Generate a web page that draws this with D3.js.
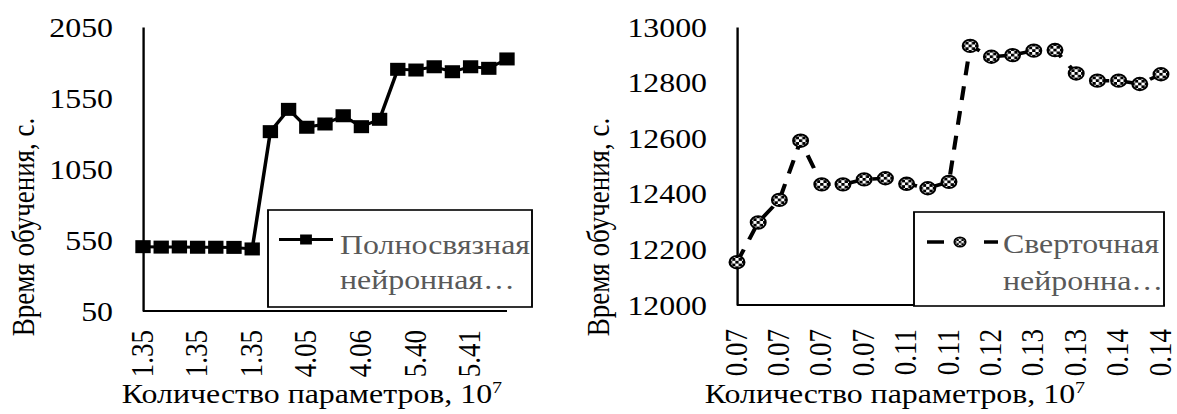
<!DOCTYPE html>
<html><head><meta charset="utf-8">
<script src="https://cdn.jsdelivr.net/npm/d3@7"></script>
<style>html,body{margin:0;padding:0;background:#fff;overflow:hidden}
svg text{font-family:"Liberation Serif","Tinos","Times New Roman",serif;}</style>
</head><body>
<svg id="chart" width="1177" height="414"></svg>
<script>
// ---- data ----
const leftCategories = ["1.35","1.35","1.35","1.35","1.35","1.35","1.35","4.05","4.05","4.05","4.05","4.06","4.06","4.06","5.40","5.40","5.40","5.41","5.41","5.41","5.41"];
const leftValues = [503,500,501,499,499,498,487,1313,1470,1344,1367,1425,1348,1400,1752,1747,1770,1735,1770,1759,1825];
const leftYTicks = [50,550,1050,1550,2050];
const leftSeriesName = ["Полносвязная","нейронная…"];

const rightCategories = ["0.07","0.07","0.07","0.07","0.07","0.07","0.07","0.07","0.11","0.11","0.11","0.11","0.12","0.12","0.13","0.13","0.13","0.13","0.14","0.14","0.14"];
const rightValues = [12154,12297,12378,12591,12434,12434,12452,12456,12436,12420,12443,12932,12893,12899,12915,12917,12833,12807,12807,12795,12830];
const rightYTicks = [12000,12200,12400,12600,12800,13000];
const rightSeriesName = ["Сверточная","нейронна…"];

const xTitle = "Количество параметров, 10";
const xTitleSup = "7";
const yTitle = "Время обучения, с.";

// ---- layout ----
const S = 1.18;             // horizontal stretch of the original picture
const W = 1177 / S, H = 414;
const FONT = '"Liberation Serif","Tinos","Times New Roman",serif';
const FS = 27;

const svg = d3.select("#chart").attr("viewBox", `0 0 ${W} ${H}`).attr("preserveAspectRatio", "none");
const defs = svg.append("defs");
const C = 0.22;
const pat = defs.append("pattern").attr("id", "chk")
  .attr("patternUnits", "objectBoundingBox").attr("patternContentUnits", "objectBoundingBox")
  .attr("x", 0.5 - C / 2).attr("y", 0.5 - C / 2)
  .attr("width", 2 * C).attr("height", 2 * C);
pat.append("rect").attr("width", 2 * C).attr("height", 2 * C).attr("fill", "#fff");
pat.append("rect").attr("width", C).attr("height", C).attr("fill", "#000");
pat.append("rect").attr("x", C).attr("y", C).attr("width", C).attr("height", C).attr("fill", "#000");

function txt(sel) {
  return sel.style("font-family", FONT).style("font-size", FS + "px");
}

function panel(o) {
  const g = svg.append("g");
  const x = d3.scalePoint().domain(d3.range(o.values.length)).range([o.x0 / S, o.x1 / S]);
  const y = d3.scaleLinear().domain([o.yTicks[0], o.yTicks[o.yTicks.length - 1]]).range([o.yBottom, o.yTop]);

  // y axis
  const ya = g.append("g").attr("transform", `translate(${o.x0 / S},0)`)
    .call(d3.axisLeft(y).tickValues(o.yTicks).tickFormat(d3.format("d")).tickSize(0).tickSizeOuter(0).tickPadding(30 / S));
  ya.select(".domain").attr("stroke", "#000").attr("stroke-width", 2);
  txt(ya.selectAll("text")).attr("fill", "#000").attr("dy", "0.34em");

  // x axis
  const xa = g.append("g").attr("transform", `translate(0,${o.yBottom})`)
    .call(d3.axisBottom(x).tickValues(x.domain().filter(i => i % o.every === 0))
      .tickFormat(i => o.categories[i]).tickSize(0).tickSizeOuter(0));
  xa.select(".domain").attr("d", `M${o.x0 / S},0H${o.axisEnd / S}`).attr("stroke", "#000").attr("stroke-width", 2);
  txt(xa.selectAll("text")).attr("fill", "#000")
    .attr("transform", "rotate(-90)").attr("text-anchor", "end")
    .attr("x", -(o.labelTop - o.yBottom)).attr("y", 0).attr("dy", "0.28em");

  // series line
  const line = d3.line().x((d, i) => x(i)).y(d => y(d));
  const path = g.append("path").datum(o.values).attr("d", line).attr("fill", "none")
    .attr("stroke", "#000").attr("stroke-width", o.lineWidth);
  if (o.dash) path.attr("stroke-dasharray", o.dash);

  // markers
  const mk = g.append("g");
  if (o.marker === "square") {
    mk.selectAll("rect").data(o.values).join("rect")
      .attr("x", (d, i) => x(i) - 6.5).attr("y", d => y(d) - 6.5)
      .attr("width", 13).attr("height", 13).attr("fill", "#000");
  } else {
    mk.selectAll("circle").data(o.values).join("circle")
      .attr("cx", (d, i) => x(i)).attr("cy", d => y(d)).attr("r", 6.3)
      .attr("fill", "url(#chk)").attr("stroke", "#000").attr("stroke-width", 1.8);
  }

  // legend
  const L = o.legend;
  const lg = g.append("g");
  lg.append("rect").attr("x", L.x0 / S).attr("y", L.y0).attr("width", (L.x1 - L.x0) / S).attr("height", L.y1 - L.y0)
    .attr("fill", "#fff").attr("stroke", "#000").attr("stroke-width", 1.6);
  L.segs.forEach(sg => lg.append("line").attr("x1", sg[0] / S).attr("x2", sg[1] / S)
    .attr("y1", L.ly).attr("y2", L.ly).attr("stroke", "#000").attr("stroke-width", o.lineWidth));
  if (o.marker === "square") {
    lg.append("rect").attr("x", L.mx / S - 5).attr("y", L.ly - 5).attr("width", 10).attr("height", 10).attr("fill", "#000");
  } else {
    lg.append("circle").attr("cx", L.mx / S).attr("cy", L.ly).attr("r", 4.8)
      .attr("fill", "url(#chk)").attr("stroke", "#000").attr("stroke-width", 1.5);
  }
  o.name.forEach((t, k) => txt(lg.append("text")).attr("x", L.tx / S).attr("y", L.tb[k])
    .attr("fill", "#595959").text(t));

  // axis titles
  const xt = txt(g.append("text")).attr("x", o.xTitleX / S).attr("y", 403).attr("text-anchor", "middle").attr("fill", "#000");
  xt.append("tspan").text(xTitle);
  xt.append("tspan").style("font-size", "17px").attr("dy", -10).text(xTitleSup);
  txt(g.append("text")).attr("transform", `translate(${o.yTitleX / S},227) rotate(-90)`).attr("text-anchor", "middle")
    .attr("fill", "#000").text(yTitle);
}

panel({
  values: leftValues, categories: leftCategories, yTicks: leftYTicks, name: leftSeriesName,
  x0: 143, x1: 507, axisEnd: 507, yTop: 27, yBottom: 311, labelTop: 330, every: 3,
  marker: "square", lineWidth: 3,
  legend: { x0: 268, x1: 532, y0: 210, y1: 307, ly: 239.5, segs: [[279, 333]], mx: 306, tx: 340, tb: [254, 289] },
  xTitleX: 312, yTitleX: 33.5
});
panel({
  values: rightValues, categories: rightCategories, yTicks: rightYTicks, name: rightSeriesName,
  x0: 737, x1: 1161, axisEnd: 1165, yTop: 27, yBottom: 305, labelTop: 329, every: 2,
  marker: "circle", lineWidth: 3.5, dash: "14,11",
  legend: { x0: 914, x1: 1164, y0: 212, y1: 306, ly: 242, segs: [[927, 944], [984, 998]], mx: 960, tx: 1003, tb: [253, 290] },
  xTitleX: 895, yTitleX: 609
});
</script>
</body></html>
